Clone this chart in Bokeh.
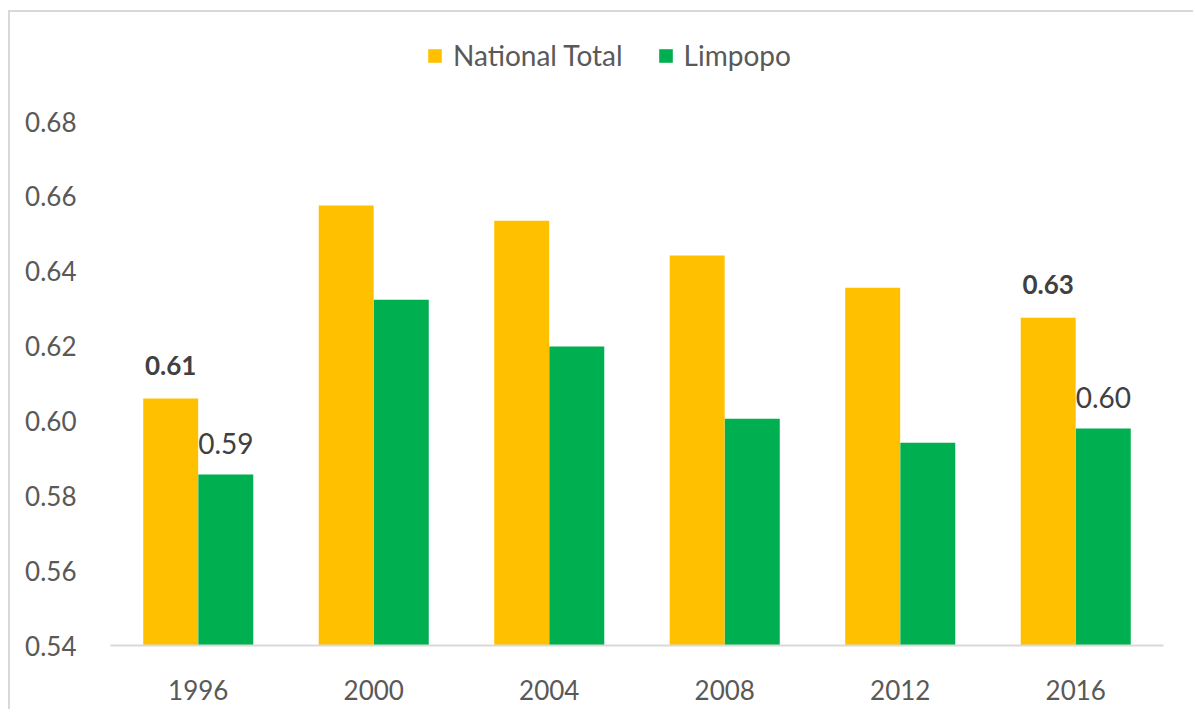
from bokeh.plotting import figure
from bokeh.models import ColumnDataSource, FactorRange, Range1d, FixedTicker, Legend, LegendItem, CustomJSTickFormatter
from bokeh.transform import dodge
from bokeh.core.properties import value
from bokeh.embed import file_html
from bokeh.resources import INLINE

years = ["1996", "2000", "2004", "2008", "2012", "2016"]
national = [0.606, 0.6576, 0.6535, 0.6442, 0.6356, 0.6276]
limpopo = [0.5857, 0.6324, 0.6199, 0.6006, 0.5942, 0.598]
y_ticks = [0.54, 0.56, 0.58, 0.60, 0.62, 0.64, 0.66, 0.68]
labeled_years = ["1996", "2016"]

FONT = "Lato"
src = ColumnDataSource(dict(year=years, national=national, limpopo=limpopo))

p = figure(width=1185, height=699, output_backend="svg", toolbar_location=None,
           x_range=FactorRange(factors=years, range_padding=0),
           y_range=Range1d(0.54, 0.707),
           min_border_left=100, min_border_right=32, min_border_top=8, min_border_bottom=66)
p.styles = {"border-left": "2px solid #d9d9d9", "border-top": "2px solid #d9d9d9",
            "margin-top": "10px", "margin-left": "8px"}
p.outline_line_color = None
p.grid.visible = False
p.background_fill_color = "white"

off = 0.157
w = 0.313
r1 = p.vbar(x=dodge("year", -off, range=p.x_range), top="national", bottom=0.54, width=w,
            source=src, fill_color="#FFC000", line_color=None)
r2 = p.vbar(x=dodge("year", off, range=p.x_range), top="limpopo", bottom=0.54, width=w,
            source=src, fill_color="#00B050", line_color=None)

# data labels
lab_n = dict(year=[], y=[], t=[])
lab_l = dict(year=[], y=[], t=[])
for yr, n, l in zip(years, national, limpopo):
    if yr in labeled_years:
        lab_n["year"].append(yr); lab_n["y"].append(n); lab_n["t"].append(f"{n:.2f}")
        lab_l["year"].append(yr); lab_l["y"].append(l); lab_l["t"].append(f"{l:.2f}")
p.text(x=dodge("year", -off, range=p.x_range), y="y", text="t", source=ColumnDataSource(lab_n),
       text_font=value(FONT), text_font_size="26px", text_font_style="bold", text_color="#404040",
       text_align="center", text_baseline="alphabetic", y_offset=-33)
p.text(x=dodge("year", off, range=p.x_range), y="y", text="t", source=ColumnDataSource(lab_l),
       text_font=value(FONT), text_font_size="28px", text_color="#404040",
       text_align="center", text_baseline="alphabetic", y_offset=-31)

# axes
p.yaxis.ticker = FixedTicker(ticks=y_ticks)
p.yaxis.formatter = CustomJSTickFormatter(code="return tick.toFixed(2);")
p.yaxis.axis_line_color = None
p.yaxis.major_tick_line_color = None
p.yaxis.minor_tick_line_color = None
p.yaxis.major_label_standoff = 28
p.xaxis.axis_line_color = "#d9d9d9"
p.xaxis.axis_line_width = 2
p.xaxis.major_tick_line_color = None
p.xaxis.major_label_standoff = 28
for ax in (p.xaxis, p.yaxis):
    ax.major_label_text_font = FONT
    ax.major_label_text_font_size = "26px"
    ax.major_label_text_color = "#595959"

legend = Legend(items=[LegendItem(label="National Total", renderers=[r1]),
                       LegendItem(label="Limpopo", renderers=[r2])],
                orientation="horizontal", location=(316, 573),
                padding=0, margin=0, spacing=34, label_standoff=10,
                glyph_width=17, glyph_height=17,
                label_text_font=FONT, label_text_font_size="28px", label_text_color="#595959",
                border_line_color=None, background_fill_alpha=0)
p.add_layout(legend, "center")

open("out.html", "w").write(file_html(p, INLINE))
